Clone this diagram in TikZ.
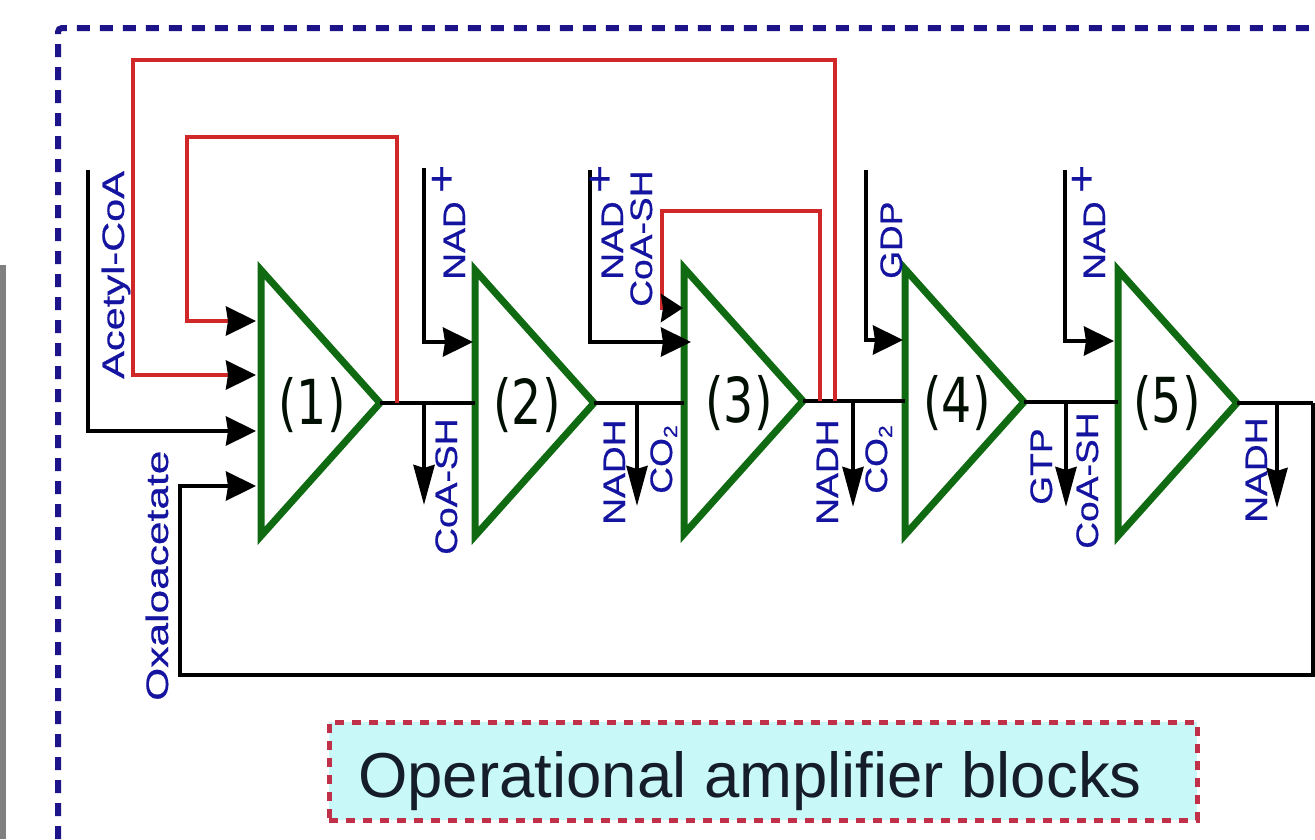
\documentclass[tikz,border=0pt]{standalone}
\usepackage{fontspec}
\setmainfont{Liberation Sans}
\newfontfamily\lblfam[FakeBold=0.5]{Liberation Sans}
\newfontfamily\numfont{DejaVu Sans Condensed}
\usetikzlibrary{shapes.geometric,arrows.meta}
\definecolor{frameblue}{HTML}{1C1488}
\definecolor{lblblue}{HTML}{1414A0}
\definecolor{ampgreen}{HTML}{0F6A12}
\definecolor{fbred}{HTML}{D02828}
\definecolor{boxred}{HTML}{C03048}
\definecolor{boxfill}{HTML}{C8F8F8}
\definecolor{boxtxt}{HTML}{151C2A}
\newcommand{\lblfont}{\lblfam\fontsize{31}{31}\selectfont}
\newcommand{\lbltext}[2]{\lblfont\scalebox{#1}[1]{#2}}
\newcommand{\plussup}{\hspace{7pt}\raisebox{10pt}{\fontsize{40}{40}\selectfont +}}
\newcommand{\subtwo}{\raisebox{-5pt}{\fontsize{19}{19}\selectfont 2}}
\newcommand{\ampnumber}[1]{\scalebox{0.85}[1]{#1}}
\tikzset{
  amp/.style={draw=ampgreen,line width=7pt,isosceles triangle,isosceles triangle stretches,
    minimum width=266pt,minimum height=119pt,inner sep=0pt,outer sep=0pt,anchor=apex,shape border rotate=0,miter limit=10},
  ampnum/.style={inner sep=0pt,text=black!85!ampgreen,font=\numfont\fontsize{62}{62}\selectfont},
  lbl/.style={inner sep=0pt,rotate=90,anchor=base west,text=lblblue},
  wire/.style={draw=black,line width=4.2pt,line join=miter},
  fb/.style={draw=fbred,line width=4.2pt,line join=miter},
  bigtip/.style={-{Stealth[length=30pt,width=29pt,inset=2pt,color=black]}},
  smalltip/.style={-{Stealth[length=22pt,width=28pt,inset=2pt,color=black]}},
  outtip/.style={-{Stealth[length=40pt,width=21pt,inset=3pt]}},
}
\begin{document}
\begin{tikzpicture}[x=1pt,y=-1pt]
\useasboundingbox (0,0) rectangle (1315,839);
\clip (0,0) rectangle (1315,839);
\fill[white] (0,0) rectangle (1315,839);
\fill[gray] (0,265) rectangle (6,839);
\draw[frameblue,line width=6pt,dash pattern=on 13pt off 10pt,rounded corners=4pt] (58,839) -- (58,28) -- (1320,28);

% amplifier blocks
\node[amp] (t1) at (380,403) {};
\node[amp] (t2) at (594,403) {};
\node[amp] (t3) at (803,401) {};
\node[amp] (t4) at (1024,402) {};
\node[amp] (t5) at (1237,403) {};
\node[ampnum] (n1) at (312,405) {\ampnumber{(1)}};
\node[ampnum] (n2) at (527,405) {\ampnumber{(2)}};
\node[ampnum] (n3) at (739,403) {\ampnumber{(3)}};
\node[ampnum] (n4) at (957,403) {\ampnumber{(4)}};
\node[ampnum] (n5) at (1167,403) {\ampnumber{(5)}};

% free ends and junctions
\coordinate (acStart) at (88,170);
\coordinate (i1c) at (256,431);
\coordinate (i1d) at (256,486);
\coordinate (i1a) at (256,321);
\coordinate (i1b) at (256,375);
\coordinate (nad2) at (424,168);
\coordinate (i2) at (473,342);
\coordinate (nad3) at (590,170);
\coordinate (i3) at (691,342);
\coordinate (i3r) at (683,308);
\coordinate (gdp4) at (866,170);
\coordinate (i4) at (903,340);
\coordinate (nad5) at (1065,170);
\coordinate (i5) at (1114,341);
\coordinate (o1) at (424,403);
\coordinate (o1e) at (424,505);
\coordinate (o2) at (637,403);
\coordinate (o2e) at (637,506);
\coordinate (o3) at (853,401);
\coordinate (o3e) at (853,507);
\coordinate (o4) at (1066,403);
\coordinate (o4e) at (1066,507);
\coordinate (o5) at (1277,403);
\coordinate (o5e) at (1277,508);
\coordinate (ret) at (1313,403);
\coordinate (retB) at (1313,675);
\coordinate (retL) at (180,675);
\coordinate (f1) at (397,403);
\coordinate (f1t) at (397,137);
\coordinate (f1l) at (187,137);
\coordinate (f2) at (835,401);
\coordinate (f2t) at (835,60);
\coordinate (f2l) at (133,60);
\coordinate (f3) at (820,401);
\coordinate (f3t) at (820,211);
\coordinate (f3l) at (662,211);

% main chain
\draw[wire] (t1.apex) -- (t1.apex -| t2.lower side);
\draw[wire] (t2.apex) -- (t2.apex -| t3.lower side);
\draw[wire] (t3.apex) -- (t3.apex -| t4.lower side);
\draw[wire] (t4.apex) -- (t4.apex -| t5.lower side);
\draw[wire] (t5.apex) -- (ret);

% feedback
\draw[fb,bigtip] (f1) -- (f1t) -- (f1l) |- (i1a);
\draw[fb,bigtip] (f2) -- (f2t) -- (f2l) |- (i1b);
\draw[fb,smalltip] (f3) -- (f3t) -- (f3l) |- (i3r);

% inputs
\draw[wire,bigtip] (acStart) |- (i1c);
\draw[wire,bigtip] (ret) -- (retB) -- (retL) |- (i1d);
\draw[wire,bigtip] (nad2) |- (i2);
\draw[wire,bigtip] (nad3) |- (i3);
\draw[wire,bigtip] (gdp4) |- (i4);
\draw[wire,bigtip] (nad5) |- (i5);

% outputs
\draw[wire,outtip] (o1) -- (o1e);
\draw[wire,outtip] (o2) -- (o2e);
\draw[wire,outtip] (o3) -- (o3e);
\draw[wire,outtip] (o4) -- (o4e);
\draw[wire,outtip] (o5) -- (o5e);

% labels
\node[lbl] (lAc) at (124,379) {\lbltext{1.34}{Acetyl-CoA}};
\node[lbl] (lOx) at (168,701) {\lbltext{1.37}{Oxaloacetate}};
\node[lbl] (lN2) at (465,280) {\lbltext{1.2}{NAD\plussup}};
\node[lbl] (lN3) at (623,280) {\lbltext{1.2}{NAD\plussup}};
\node[lbl] (lC3) at (652,307) {\lbltext{1.2}{CoA-SH}};
\node[lbl] (lG4) at (902,279) {\lbltext{1.15}{GDP}};
\node[lbl] (lN5) at (1105,280) {\lbltext{1.2}{NAD\plussup}};
\node[lbl] (lC1) at (457,555) {\lbltext{1.2}{CoA-SH}};
\node[lbl] (lH2) at (625,525) {\lbltext{1.2}{NADH}};
\node[lbl] (lO2) at (672,494) {\lbltext{1.2}{CO\subtwo}};
\node[lbl] (lH3) at (838,525) {\lbltext{1.2}{NADH}};
\node[lbl] (lO3) at (887,494) {\lbltext{1.2}{CO\subtwo}};
\node[lbl] (lT4) at (1052,505) {\lbltext{1.2}{GTP}};
\node[lbl] (lC5) at (1098,549) {\lbltext{1.2}{CoA-SH}};
\node[lbl] (lH5) at (1267,523) {\lbltext{1.2}{NADH}};

% legend
\node[draw=boxred,fill=boxfill,line width=5pt,dash pattern=on 9pt off 8pt,minimum width=868pt,minimum height=98pt,inner sep=0pt,outer sep=0pt] (box) at (763,771) {};
\node[inner sep=0pt,anchor=base west,text=boxtxt,font=\fontsize{63.5}{64}\selectfont] (boxtext) at (358,797) {Operational amplifier blocks};
\end{tikzpicture}
\end{document}
